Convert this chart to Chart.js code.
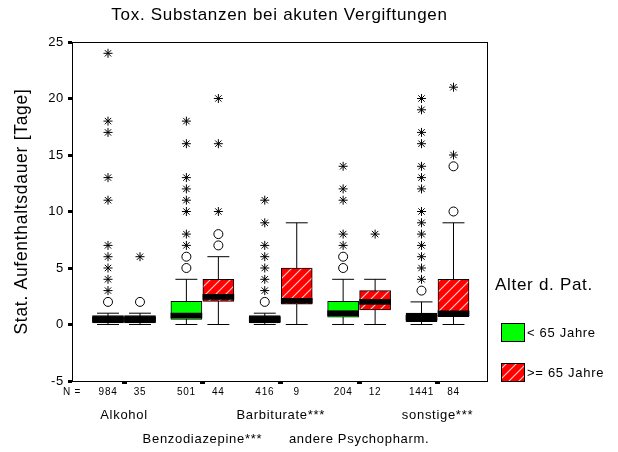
<!DOCTYPE html>
<html>
<head>
<meta charset="utf-8">
<script src="https://cdn.jsdelivr.net/npm/chart.js@4.4.1/dist/chart.umd.min.js"></script>
<style>
  html, body { margin: 0; padding: 0; background: #fff; }
  canvas { display: block; }
</style>
</head>
<body>
<canvas id="chart" width="618" height="452"></canvas>
<script>
// --- data ---
const categories = ['Alkohol', 'Benzodiazepine***', 'Barbiturate***', 'andere Psychopharm.', 'sonstige***'];
const ageGroups = ['< 65 Jahre', '>= 65 Jahre'];
const yTicks = [-5, 0, 5, 10, 15, 20, 25];

// < 65 Jahre
const youngN = [984, 501, 416, 204, 1441];
const youngLow = [0, 0, 0, 0, 0];
const youngQ1 = [0.15, 0.45, 0.15, 0.65, 0.25];
const youngMedian = [0.45, 0.8, 0.45, 1.0, 0.6];
const youngQ3 = [0.8, 2.05, 0.8, 2.05, 1.0];
const youngHigh = [1, 4, 1, 4, 2];
const youngCircles = [[2], [5, 6], [2], [5, 6], [3]];
const youngStars = [
  [3, 4, 5, 6, 7, 11, 13, 17, 18, 24],
  [7, 8, 10, 11, 12, 13, 16, 18],
  [3, 4, 5, 6, 7, 9, 11],
  [7, 8, 11, 12, 14],
  [4, 5, 6, 7, 8, 9, 10, 12, 13, 14, 16, 17, 19, 20]
];

// >= 65 Jahre
const oldN = [35, 44, 9, 12, 84];
const oldLow = [0, 0, 0, 0, 0];
const oldQ1 = [0.15, 2.05, 1.8, 1.3, 0.7];
const oldMedian = [0.45, 2.45, 2.1, 2.0, 1.0];
const oldQ3 = [0.8, 4, 5, 3, 4];
const oldHigh = [1, 6, 9, 4, 9];
const oldCircles = [[2], [7, 8], [], [], [10, 14]];
const oldStars = [[6], [10, 16, 20], [], [8], [15, 21]];

// --- look ---
const FONT = '"Liberation Sans", Arial, sans-serif';
const GREEN = '#00ff00';
const X_MIN = -0.6635, X_MAX = 4.6316;
const PAIR_OFFSET = 0.204;
const CAP_HALF = 0.14;
const MEDIAN_HALF = 0.22;

Chart.defaults.font.family = FONT;
Chart.defaults.color = '#000';

const canvas = document.getElementById('chart');
const ctx = canvas.getContext('2d');

function makeHatch() {
  const c = document.createElement('canvas');
  c.width = 10; c.height = 10;
  const g = c.getContext('2d');
  g.fillStyle = '#ff0000';
  g.fillRect(0, 0, 10, 10);
  g.strokeStyle = 'rgba(255,255,255,0.8)';
  g.lineWidth = 1.1;
  g.beginPath();
  g.moveTo(-1, 11); g.lineTo(11, -1);
  g.moveTo(-1, 1); g.lineTo(1, -1);
  g.moveTo(9, 11); g.lineTo(11, 9);
  g.stroke();
  return ctx.createPattern(c, 'repeat');
}
const redHatch = makeHatch();

const youngX = categories.map((_, i) => i - PAIR_OFFSET);
const oldX = categories.map((_, i) => i + PAIR_OFFSET);

function boxData(xs, q1, q3) {
  return xs.map((x, i) => ({ x: x, y: [q1[i], q3[i]] }));
}
function medianData(xs, med) {
  return xs.map((x, i) => ({ x: x, y: [med[i] - MEDIAN_HALF, med[i] + MEDIAN_HALF] }));
}
function whiskerData(xs, lo, hi) {
  const pts = [];
  xs.forEach((x, i) => {
    pts.push({ x: x, y: lo[i] }, { x: x, y: hi[i] }, { x: x, y: null });
    pts.push({ x: x - CAP_HALF, y: hi[i] }, { x: x + CAP_HALF, y: hi[i] }, { x: x, y: null });
    pts.push({ x: x - CAP_HALF, y: lo[i] }, { x: x + CAP_HALF, y: lo[i] }, { x: x, y: null });
  });
  return pts;
}
function outlierData(xs, lists) {
  return xs.flatMap((x, i) => lists[i].map(v => ({ x: x, y: v })));
}
// very flat boxes come out solid black in the original (thick median line)
function boxFill(q1, q3, fill) {
  return c => (q3[c.dataIndex] - q1[c.dataIndex] < 1 ? '#000' : fill);
}

// bottom axis: "N =", counts under each box, dash at each group centre
const xTickValues = [X_MIN];
const xTickLabels = ['N ='];
const xTickIsGroup = [false];
categories.forEach((_, i) => {
  xTickValues.push(youngX[i], i, oldX[i]);
  xTickLabels.push(String(youngN[i]), '', String(oldN[i]));
  xTickIsGroup.push(false, true, false);
});

const frame = {
  id: 'frame',
  beforeDraw(chart) {
    chart.ctx.letterSpacing = '0.7px';
  },
  afterDraw(chart) {
    const { left, top, right, bottom } = chart.chartArea;
    const c = chart.ctx;
    c.save();
    c.strokeStyle = '#000';
    c.lineWidth = 1;
    c.strokeRect(Math.round(left) + 0.5, Math.round(top) + 0.5, Math.round(right - left), Math.round(bottom - top));
    c.restore();
  }
};

const ageLegend = {
  id: 'ageLegend',
  afterDraw(chart) {
    const c = chart.ctx;
    const x = chart.chartArea.right + 8;
    c.save();
    c.textAlign = 'left';
    c.textBaseline = 'middle';
    c.fillStyle = '#000';
    c.font = '17px ' + FONT;
    c.fillText('Alter d. Pat.', x, 285);
    [GREEN, redHatch].forEach((fill, i) => {
      const y = 323 + i * 40;
      c.fillStyle = fill;
      c.fillRect(x + 6, y, 24, 19);
      c.strokeStyle = '#000';
      c.lineWidth = 1;
      c.strokeRect(x + 6.5, y + 0.5, 23, 18);
      c.fillStyle = '#000';
      c.font = '13px ' + FONT;
      c.fillText(ageGroups[i], x + 32, y + 10);
    });
    c.restore();
  }
};

new Chart(ctx, {
  type: 'bar',
  data: {
    datasets: [
      {
        type: 'scatter',
        label: 'Whisker',
        data: whiskerData(youngX, youngLow, youngHigh).concat(whiskerData(oldX, oldLow, oldHigh)),
        showLine: true,
        spanGaps: false,
        borderColor: '#000',
        borderWidth: 1,
        pointRadius: 0,
        order: 5
      },
      {
        label: ageGroups[0],
        data: boxData(youngX, youngQ1, youngQ3),
        backgroundColor: boxFill(youngQ1, youngQ3, GREEN),
        borderColor: '#000',
        borderWidth: 1,
        borderSkipped: false,
        barThickness: 31,
        grouped: false,
        order: 4
      },
      {
        label: ageGroups[1],
        data: boxData(oldX, oldQ1, oldQ3),
        backgroundColor: boxFill(oldQ1, oldQ3, redHatch),
        borderColor: '#000',
        borderWidth: 1,
        borderSkipped: false,
        barThickness: 31,
        grouped: false,
        order: 4
      },
      {
        label: 'Median',
        data: medianData(youngX, youngMedian).concat(medianData(oldX, oldMedian)),
        backgroundColor: '#000',
        borderWidth: 0,
        barThickness: 31,
        grouped: false,
        order: 3
      },
      {
        type: 'scatter',
        label: 'Ausreißer',
        data: outlierData(youngX, youngCircles).concat(outlierData(oldX, oldCircles)),
        pointStyle: 'circle',
        pointRadius: 4.5,
        backgroundColor: '#fff',
        borderColor: '#000',
        borderWidth: 1,
        order: 1
      },
      {
        type: 'scatter',
        label: 'Extremwerte',
        data: outlierData(youngX, youngStars).concat(outlierData(oldX, oldStars)),
        pointStyle: 'star',
        pointRadius: 4.5,
        borderColor: '#000',
        borderWidth: 1,
        order: 1
      }
    ]
  },
  options: {
    responsive: false,
    animation: false,
    devicePixelRatio: 1,
    events: [],
    layout: { padding: { left: 0, right: 131, top: 0, bottom: 0 } },
    plugins: {
      legend: { display: false },
      tooltip: { enabled: false },
      title: {
        display: true,
        fullSize: false,
        text: 'Tox. Substanzen bei akuten Vergiftungen',
        color: '#000',
        font: { size: 17, weight: 'normal' },
        padding: { top: 5, bottom: 16.6 }
      }
    },
    scales: {
      x: {
        type: 'linear',
        min: X_MIN,
        max: X_MAX,
        offset: false,
        position: 'bottom',
        afterBuildTicks: s => { s.ticks = xTickValues.map(v => ({ value: v })); },
        afterFit: s => { s.height = 17; },
        ticks: {
          autoSkip: false, maxRotation: 0, minRotation: 0, padding: 2,
          color: '#000', font: { size: 10 },
          callback: (v, i) => xTickLabels[i]
        },
        grid: {
          drawOnChartArea: false, drawTicks: true, offset: false,
          tickLength: 3, tickWidth: 5,
          tickColor: c => (xTickIsGroup[c.index] ? '#000' : 'rgba(0,0,0,0)')
        },
        border: { display: false }
      },
      x2: {
        type: 'linear',
        min: X_MIN,
        max: X_MAX,
        offset: false,
        position: 'bottom',
        afterBuildTicks: s => { s.ticks = categories.map((_, i) => ({ value: i })); },
        afterFit: s => { s.height = 54; },
        ticks: {
          autoSkip: false, maxRotation: 0, minRotation: 0, padding: 5,
          color: '#000', font: { size: 13, lineHeight: 24 / 13 },
          callback: (v, i) => (i % 2 ? ['', categories[i]] : [categories[i], ''])
        },
        grid: { display: false, drawTicks: false },
        border: { display: false }
      },
      y: {
        type: 'linear',
        min: -5,
        max: 25,
        afterBuildTicks: s => { s.ticks = yTicks.map(v => ({ value: v })); },
        afterFit: s => { s.width = 72; },
        ticks: { color: '#000', font: { size: 13 }, padding: 4 },
        grid: {
          drawOnChartArea: false, drawTicks: true,
          tickLength: 4, tickWidth: 3, tickColor: '#000'
        },
        border: { display: true, color: '#000', width: 1 },
        title: {
          display: true,
          text: 'Stat. Aufenthaltsdauer [Tage]',
          color: '#000',
          font: { size: 17.5 },
          padding: { top: 12, bottom: 0 }
        }
      }
    }
  },
  plugins: [frame, ageLegend]
});
</script>
</body>
</html>
